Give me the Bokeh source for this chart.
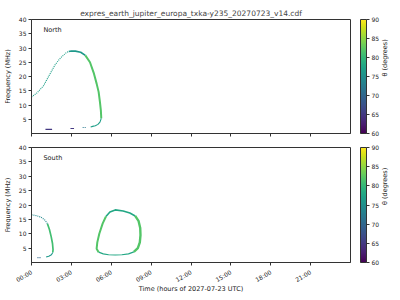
import math
from bokeh.plotting import figure
from bokeh.models import ColorBar, LinearColorMapper, FixedTicker, Label, LinearAxis
from bokeh.palettes import Viridis256
from bokeh.layouts import column
from bokeh.embed import file_html
from bokeh.resources import INLINE

TITLE = "expres_earth_jupiter_europa_txka-y235_20270723_v14.cdf"
X_TICKS = [0, 3, 6, 9, 12, 15, 18, 21]
X_LABELS = ["00:00", "03:00", "06:00", "09:00", "12:00", "15:00", "18:00", "21:00"]
Y_TICKS = [5, 10, 15, 20, 25, 30, 35, 40]
CB_TICKS = [60, 65, 70, 75, 80, 85, 90]

# ---- North hemisphere (time in hours, frequency in MHz, theta in degrees)
N_rise_t = [0.0, 0.4, 0.9, 1.4, 1.8, 2.2, 2.6, 2.8]
N_rise_f = [12.8, 14.2, 16.7, 21.0, 24.3, 26.6, 28.3, 28.8]
N_rise_theta = 77
N_peak_t = [2.8, 3.0, 3.3, 3.7, 4.05]
N_peak_f = [28.8, 28.95, 28.9, 28.5, 27.4]
N_peak_theta = 76
N_fall_t = [4.05, 4.4, 4.7, 4.9, 5.05, 5.15, 5.22, 5.25]
N_fall_f = [27.4, 25.0, 21.0, 17.5, 14.6, 11.0, 8.0, 5.3]
N_fall_theta = 82
N_hook_t = [5.25, 5.15, 5.0, 4.8, 4.6, 4.45]
N_hook_f = [5.3, 4.0, 3.2, 2.7, 2.5, 2.3]
N_hook_theta = 77
N_dash_t = [3.85, 4.1]
N_dash_f = [2.1, 2.1]
N_dash_theta = 72
N_low1_t = [1.05, 1.55]
N_low1_f = [1.45, 1.45]
N_low2_t = [2.93, 3.2]
N_low2_f = [1.75, 1.75]
N_low_theta = 65

# ---- South hemisphere
S_start_t = [0.0, 0.35, 0.7, 1.0, 1.2]
S_start_f = [16.6, 16.3, 15.8, 14.8, 13.5]
S_start_theta = 74
S_vert_t = [1.2, 1.35, 1.48, 1.58, 1.62, 1.6]
S_vert_f = [13.5, 11.5, 9.0, 6.6, 4.5, 3.5]
S_vert_theta = 81
S_hook_t = [1.6, 1.5, 1.3, 1.1]
S_hook_f = [3.5, 2.7, 2.2, 1.9]
S_hook_theta = 76
S_dash_t = [0.45, 0.75]
S_dash_f = [1.7, 1.7]
S_dash_theta = 70

S_top_t = [5.6, 5.9, 6.3, 6.9, 7.4, 7.8]
S_top_f = [16.0, 17.6, 18.3, 17.9, 17.2, 16.2]
S_top_theta = 78
S_right_t = [7.8, 8.05, 8.18, 8.2, 8.15, 8.0, 7.7]
S_right_f = [16.2, 14.5, 12.0, 9.5, 7.0, 5.0, 3.7]
S_right_theta = 82
S_bottom_t = [7.7, 7.3, 6.8, 6.3, 5.8, 5.4, 5.05]
S_bottom_f = [3.7, 3.0, 2.7, 2.6, 2.7, 3.0, 3.6]
S_bottom_theta = 78
S_left_t = [5.05, 4.9, 4.95, 5.1, 5.35, 5.6]
S_left_f = [3.6, 4.8, 7.0, 10.0, 13.5, 16.0]
S_left_theta = 82

FONT = "DejaVu Sans"
mapper = LinearColorMapper(palette=Viridis256, low=60, high=90)


def color_of(theta):
    i = int(round((theta - 60) / 30 * 255))
    return Viridis256[max(0, min(255, i))]


def make_panel(solid, dashed, name, show_x, height, btop, bbottom, title=None):
    p = figure(width=400, height=height, x_range=(0, 24), y_range=(0, 40),
               output_backend="svg", toolbar_location=None,
               min_border_left=31, min_border_right=50,
               min_border_top=btop, min_border_bottom=bbottom)
    frame_h = height - btop - bbottom
    frame_w = 400 - 31 - 50
    if title:
        p.title.text = title
        p.title.text_font = FONT
        p.title.text_font_size = "7.5px"
        p.title.text_font_style = "normal"
        p.title.align = "center"
        p.title.standoff = 3
    p.grid.visible = False
    p.outline_line_color = "#333333"
    for ax in (p.xaxis, p.yaxis):
        ax.major_tick_in = 0
        ax.major_tick_out = 3
        ax.minor_tick_line_color = None
        ax.axis_line_color = "#333333"
        ax.major_tick_line_color = "#333333"
        ax.major_label_text_font = FONT
        ax.major_label_text_font_size = "6px"
        ax.major_label_text_color = "#222222"
        ax.axis_label_text_font = FONT
        ax.axis_label_text_font_size = "6.5px"
        ax.axis_label_text_font_style = "normal"
        ax.axis_label_text_color = "#222222"
    p.xaxis.ticker = FixedTicker(ticks=X_TICKS)
    p.yaxis.ticker = FixedTicker(ticks=Y_TICKS)
    p.yaxis.axis_label = "Frequency (MHz)"
    p.yaxis.major_label_standoff = 2
    p.yaxis.axis_label_standoff = 4
    if show_x:
        p.xaxis.major_label_overrides = {t: l for t, l in zip(X_TICKS, X_LABELS)}
        p.xaxis.axis_label = "Time (hours of 2027-07-23 UTC)"
        p.xaxis.major_label_orientation = math.pi / 6
        p.xaxis.major_label_standoff = 6
        p.xaxis.axis_label_standoff = -4
    else:
        p.xaxis.major_label_overrides = {t: "" for t in X_TICKS}
        p.xaxis.major_label_standoff = 0

    for t, f, th, lw in solid:
        p.line(t, f, line_color=color_of(th), line_width=lw)
    for t, f, th, lw in dashed:
        p.line(t, f, line_color=color_of(th), line_width=lw, line_dash="1 1")

    p.add_layout(Label(x=0.9, y=36.3, text=name, text_font=FONT, text_font_size="6.5px",
                       text_color="#222222", text_baseline="middle"))

    cb = ColorBar(color_mapper=mapper, width=6, height=frame_h, padding=0, margin=0,
                  location=(frame_w + 10, 0),
                  ticker=FixedTicker(ticks=CB_TICKS),
                  major_tick_in=0, major_tick_out=3, major_tick_line_color="#333333",
                  bar_line_color="#333333", label_standoff=2,
                  major_label_text_font=FONT, major_label_text_font_size="6px",
                  major_label_text_color="#222222",
                  background_fill_alpha=0)
    p.add_layout(cb, "center")

    # right-side axis used only to carry the colour bar's rotated label
    rax = LinearAxis(ticker=FixedTicker(ticks=[]), axis_label="θ (degrees)",
                     axis_line_color=None, major_tick_line_color=None,
                     minor_tick_line_color=None, major_label_text_font_size="0px",
                     axis_label_text_font=FONT, axis_label_text_font_size="6.5px",
                     axis_label_text_font_style="normal", axis_label_text_color="#222222",
                     axis_label_text_align="center", axis_label_text_baseline="middle",
                     axis_label_standoff=34, major_tick_out=0, major_tick_in=0,
                     major_label_standoff=0)
    try:
        rax.axis_label_orientation = math.pi / 2
    except Exception:
        pass
    p.add_layout(rax, "right")
    return p


north_solid = [
    (N_peak_t, N_peak_f, N_peak_theta, 1.6),
    (N_fall_t, N_fall_f, N_fall_theta, 2.0),
    (N_hook_t, N_hook_f, N_hook_theta, 1.1),
    (N_low1_t, N_low1_f, N_low_theta, 1.1),
    (N_low2_t, N_low2_f, N_low_theta, 1.1),
]
north_dashed = [
    (N_rise_t, N_rise_f, N_rise_theta, 1.1),
    (N_dash_t, N_dash_f, N_dash_theta, 1.1),
]
south_solid = [
    (S_vert_t, S_vert_f, S_vert_theta, 1.7),
    (S_hook_t, S_hook_f, S_hook_theta, 1.1),
    (S_top_t, S_top_f, S_top_theta, 1.6),
    (S_right_t, S_right_f, S_right_theta, 2.4),
    (S_bottom_t, S_bottom_f, S_bottom_theta, 1.2),
    (S_left_t, S_left_f, S_left_theta, 2.0),
]
south_dashed = [
    (S_start_t, S_start_f, S_start_theta, 1.1),
    (S_dash_t, S_dash_f, S_dash_theta, 1.1),
]

p1 = make_panel(north_solid, north_dashed, "North", False, 140, 19, 7, title=TITLE)
p2 = make_panel(south_solid, south_dashed, "South", True, 160, 7, 38)

layout = column(p1, p2, spacing=0)
open("out.html", "w").write(file_html(layout, INLINE))
